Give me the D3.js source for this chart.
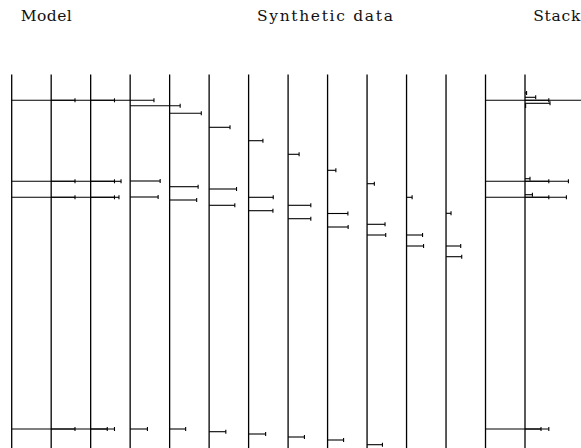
<!DOCTYPE html>
<html>
<head>
<meta charset="utf-8">
<script src="https://cdn.jsdelivr.net/npm/d3@7"></script>
<style>
  body { margin: 0; background: #fff; }
  svg { display: block; }
</style>
</head>
<body>
<script>
// Width and height
var w = 581;
var h = 448;

// Columns (one vertical line each)
var columns = ["c0","c1","c2","c3","c4","c5","c6","c7","c8","c9","c10","c11","c12","c13"];

// Panel titles
var titles = ["Model", "Synthetic data", "Stack"];
var titleCols = [0.23, 6.21, 13.21];
var titleLen = [51, 136, 47];

// Bars: column, depth (down from top of lines), length (1 = full)
var topCol   = ["c0","c1","c2","c3","c4","c5","c6","c7","c8","c9","c10","c11","c12","c13"];
var topDepth = [25.8, 25.8, 25.8, 31.2, 38.8, 52.8, 66.2, 79.8, 95.8, 109.2, 122.8, 138.8, 25.8, 25.8];
var topLen   = [1.0, 1.0, 1.0, 0.79, 0.50, 0.33, 0.226, 0.174, 0.131, 0.115, 0.088, 0.079, 1.0, 1.0];

var midACol   = ["c0","c1","c2","c3","c4","c5","c6","c7","c8","c9","c10","c11","c12","c13"];
var midADepth = [106.8, 106.8, 106.8, 106.5, 112.2, 114.5, 122.8, 130.8, 139.0, 149.8, 160.5, 171.5, 106.8, 106.8];
var midALen   = [1.0, 1.0, 0.48, 0.474, 0.45, 0.433, 0.389, 0.359, 0.321, 0.284, 0.253, 0.232, 1.0, 0.686];

var midBCol   = ["c0","c1","c2","c3","c4","c5","c6","c7","c8","c9","c10","c11","c12","c13"];
var midBDepth = [122.8, 122.8, 122.8, 122.5, 125.5, 130.8, 136.2, 144.2, 152.5, 160.5, 171.5, 182.2, 122.8, 122.8];
var midBLen   = [1.0, 1.0, 0.447, 0.442, 0.427, 0.406, 0.384, 0.359, 0.325, 0.295, 0.269, 0.248, 1.0, 0.654];

var botCol   = ["c0","c1","c2","c3","c4","c5","c6","c7","c8","c9","c10","c11","c12","c13"];
var botDepth = [354.5, 354.5, 354.5, 354.5, 354.5, 357.2, 359.5, 362.5, 365.5, 370.2, 375.5, 381.5, 354.5, 354.5];
var botLen   = [1.0, 1.0, 0.262, 0.273, 0.253, 0.264, 0.269, 0.258, 0.253, 0.243, 0.24, 0.23, 1.0, 0.253];

var extraCol   = ["c13","c13","c13","c13","c13","c13"];
var extraDepth = [18.5, 22.8, 28.8, 31.5, 104.2, 120.2];
var extraLen   = [0.025, 0.169, 0.395, 0.01, 0.079, 0.117];

// Scales
var x = d3.scalePoint().domain(columns).range([11.7, 525]);
var y = d3.scaleLinear().domain([0, 373.5]).range([74.5, 448]);
var len = d3.scaleLinear().domain([0, 1]).range([0, 63.3]);
var tx = d3.scaleLinear().domain([0, 13]).range([11.7, 525]);

// Create SVG element
var svg = d3.select("body")
            .append("svg")
            .attr("width", w)
            .attr("height", h);

// Titles
svg.selectAll("text.title")
   .data(titles)
   .enter()
   .append("text")
   .attr("class", "title")
   .attr("x", function(d, i){ return tx(titleCols[i]); })
   .attr("y", 20.5)
   .attr("textLength", function(d, i){ return titleLen[i]; })
   .attr("lengthAdjust", "spacing")
   .style("font-family", "'DejaVu Serif', serif")
   .style("font-size", "15.5px")
   .style("fill", "#111")
   .text(function(d){ return d; });

// Vertical lines
svg.selectAll("line.col")
   .data(columns)
   .enter()
   .append("line")
   .attr("class", "col")
   .attr("x1", function(d){ return x(d); })
   .attr("x2", function(d){ return x(d); })
   .attr("y1", y(0))
   .attr("y2", h + 5)
   .style("stroke", "#000")
   .style("stroke-width", 1.3);

// Collect bars from the arrays
function rows(cols, depths, lens){
  return cols.map(function(c, i){ return {col: c, depth: depths[i], len: lens[i]}; });
}
var bars = [].concat(
  rows(topCol, topDepth, topLen),
  rows(midACol, midADepth, midALen),
  rows(midBCol, midBDepth, midBLen),
  rows(botCol, botDepth, botLen),
  rows(extraCol, extraDepth, extraLen)
);

var g = svg.selectAll("g.bar")
   .data(bars)
   .enter()
   .append("g")
   .attr("class", "bar");

g.append("line")
   .attr("x1", function(d){ return x(d.col); })
   .attr("x2", function(d){ return x(d.col) + len(d.len); })
   .attr("y1", function(d){ return y(d.depth); })
   .attr("y2", function(d){ return y(d.depth); })
   .style("stroke", "#000")
   .style("stroke-width", 1.1);

// End tick
g.append("line")
   .attr("x1", function(d){ return x(d.col) + len(d.len); })
   .attr("x2", function(d){ return x(d.col) + len(d.len); })
   .attr("y1", function(d){ return y(d.depth) - 2; })
   .attr("y2", function(d){ return y(d.depth) + 2; })
   .style("stroke", "#000")
   .style("stroke-width", 1.1);
</script>
</body>
</html>
